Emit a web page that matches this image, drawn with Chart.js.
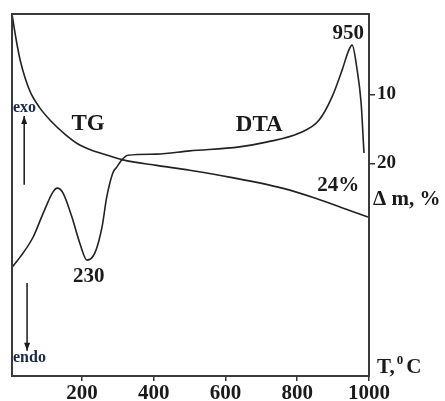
<!DOCTYPE html>
<html>
<head>
<meta charset="utf-8">
<script src="https://cdn.jsdelivr.net/npm/chart.js@4.4.1/dist/chart.umd.min.js"></script>
<style>
  html, body { margin: 0; padding: 0; background: #fff; }
  #c { display: block; }
</style>
</head>
<body>
<canvas id="c" width="445" height="401"></canvas>
<script>
// ---- data ----
const temperatureTicks = [200, 400, 600, 800, 1000];
const massTicks = [10, 20];

// TG curve: temperature (°C) and mass loss (Δm, %) on the right axis
const tgTemp = [5.6, 17, 28, 42, 58, 83, 114, 153, 189, 222, 269, 314, 408, 500, 611, 758, 853, 944, 997];
const tgMass = [-1.45, 2.2, 5.1, 7.7, 9.9, 12.0, 13.9, 15.8, 17.2, 18.0, 18.8, 19.5, 20.3, 21.0, 22.0, 23.6, 25.1, 26.8, 27.8];

// DTA curve: temperature (°C) and signal (arbitrary units, exo up)
const dtaTemp = [5.6, 28, 64, 92, 119, 131, 147, 172, 194, 214, 236, 256, 269, 286, 297, 311, 328, 408, 500, 639, 714, 806, 861, 897, 925, 944, 953, 967, 978, 986];
const dtaSignal = [30.1, 32.9, 38.4, 45.0, 50.8, 51.9, 50.6, 43.9, 36.7, 32.0, 34.0, 41.2, 49.4, 56.1, 57.7, 59.7, 61.0, 61.3, 62.2, 63.3, 64.6, 67.1, 70.7, 77.1, 84.5, 90.1, 91.4, 84.5, 75.4, 61.6];

// text labels placed in data coordinates
const curveLabels = [
  { text: '950', x: 942, y: 94.5, axis: 'dta', size: 21 },
  { text: '230', x: 219, y: 27.6, axis: 'dta', size: 21 },
  { text: 'TG', x: 217, y: 14.35, axis: 'tg', size: 23 },
  { text: 'DTA', x: 694, y: 14.5, axis: 'tg', size: 23 },
  { text: '24%', x: 914, y: 23.3, axis: 'tg', size: 21 }
];

const SERIF = '"Liberation Serif", "DejaVu Serif", serif';
const INK = '#1a1a1a';

const annotate = {
  id: 'annotate',
  afterDraw(chart) {
    const { ctx, chartArea: a, scales } = chart;
    const xs = scales.x;
    ctx.save();
    // frame
    ctx.strokeStyle = '#3a3a3a';
    ctx.lineWidth = 2;
    ctx.strokeRect(a.left, a.top, a.right - a.left, a.bottom - a.top);

    // curve labels
    ctx.fillStyle = INK;
    ctx.textAlign = 'center';
    ctx.textBaseline = 'middle';
    curveLabels.forEach(l => {
      ctx.font = 'bold ' + l.size + 'px ' + SERIF;
      ctx.fillText(l.text, xs.getPixelForValue(l.x), scales[l.axis].getPixelForValue(l.y));
    });

    // exo / endo
    const d = scales.dta;
    ctx.font = 'bold 16px ' + SERIF;
    ctx.fillStyle = '#1a2a4a';
    ctx.textAlign = 'left';
    ctx.fillText('exo', a.left + 1, d.getPixelForValue(74));
    ctx.fillText('endo', a.left + 1, d.getPixelForValue(5));

    ctx.strokeStyle = INK;
    ctx.fillStyle = INK;
    ctx.lineWidth = 1.5;
    function arrow(x, y1, y2) {
      ctx.beginPath();
      ctx.moveTo(x, y1);
      ctx.lineTo(x, y2);
      ctx.stroke();
      const dir = y2 < y1 ? 1 : -1;
      ctx.beginPath();
      ctx.moveTo(x, y2);
      ctx.lineTo(x - 3, y2 + dir * 8);
      ctx.lineTo(x + 3, y2 + dir * 8);
      ctx.closePath();
      ctx.fill();
    }
    arrow(xs.getPixelForValue(39), d.getPixelForValue(52.8), d.getPixelForValue(71.8));
    arrow(xs.getPixelForValue(47), d.getPixelForValue(25.7), d.getPixelForValue(7.0));

    // axis titles
    const tg = scales.tg;
    ctx.fillStyle = INK;
    ctx.font = 'bold 21px ' + SERIF;
    ctx.textAlign = 'left';
    ctx.fillText('\u0394 m, %', a.right + 4, tg.getPixelForValue(25.3));

    const ty = a.bottom - 8;
    ctx.font = 'bold 21px ' + SERIF;
    ctx.fillText('T,', a.right + 8, ty);
    const w = ctx.measureText('T,').width;
    ctx.font = 'bold 13px ' + SERIF;
    ctx.fillText('0', a.right + 10 + w, ty - 7);
    const w0 = ctx.measureText('0').width;
    ctx.font = 'bold 21px ' + SERIF;
    ctx.fillText('C', a.right + 13 + w + w0, ty);
    ctx.restore();
  }
};

new Chart(document.getElementById('c'), {
  type: 'line',
  data: {
    datasets: [
      {
        label: 'TG',
        data: tgTemp.map((t, i) => ({ x: t, y: tgMass[i] })),
        yAxisID: 'tg',
        borderColor: '#222',
        borderWidth: 1.6,
        pointRadius: 0,
        cubicInterpolationMode: 'monotone',
        fill: false
      },
      {
        label: 'DTA',
        data: dtaTemp.map((t, i) => ({ x: t, y: dtaSignal[i] })),
        yAxisID: 'dta',
        borderColor: '#222',
        borderWidth: 1.6,
        pointRadius: 0,
        cubicInterpolationMode: 'monotone',
        fill: false
      }
    ]
  },
  options: {
    responsive: false,
    animation: false,
    devicePixelRatio: 1,
    layout: { padding: { top: 14, left: 0, right: 0, bottom: 0 } },
    plugins: { legend: { display: false }, tooltip: { enabled: false } },
    scales: {
      x: {
        type: 'linear',
        min: 5,
        max: 1000,
        afterBuildTicks: s => { s.ticks = temperatureTicks.map(v => ({ value: v })); },
        afterFit: s => { s.height = 25; },
        border: { display: false },
        grid: { drawOnChartArea: false, drawTicks: true, tickLength: 5, color: '#333', lineWidth: 1.5 },
        ticks: {
          autoSkip: false, maxRotation: 0, padding: 0, color: INK,
          callback: v => String(v),
          font: { family: SERIF, weight: 'bold', size: 21 }
        }
      },
      dta: {
        type: 'linear',
        position: 'left',
        min: 0,
        max: 100,
        afterFit: s => { s.width = 12; },
        border: { display: false },
        grid: { display: false },
        ticks: { display: false }
      },
      tg: {
        type: 'linear',
        position: 'right',
        reverse: true,
        min: -1.64,
        max: 50.83,
        afterBuildTicks: s => { s.ticks = massTicks.map(v => ({ value: v })); },
        afterFit: s => { s.width = 76; },
        border: { display: false },
        grid: { drawOnChartArea: false, drawTicks: true, tickLength: 6, color: '#333', lineWidth: 1.5 },
        ticks: {
          padding: 2, color: INK,
          callback: v => String(v),
          font: { family: SERIF, weight: 'bold', size: 19 }
        }
      }
    }
  },
  plugins: [annotate]
});
</script>
</body>
</html>
